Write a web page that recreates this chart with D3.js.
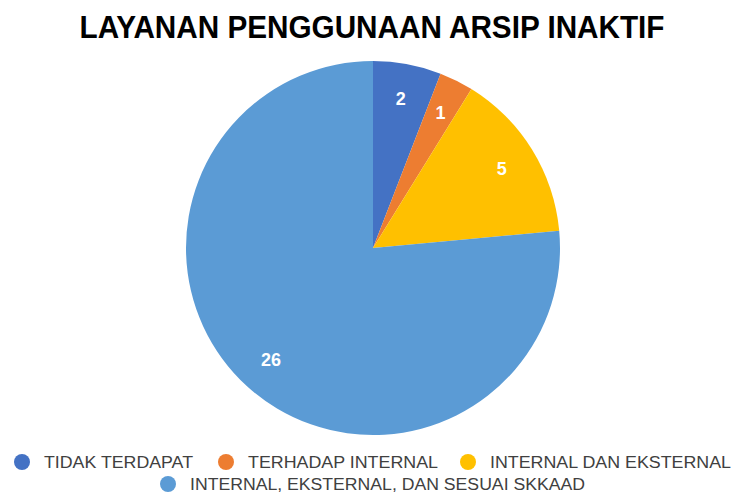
<!DOCTYPE html>
<html>
<head>
<meta charset="utf-8">
<script src="https://cdn.jsdelivr.net/npm/d3@7"></script>
<style>
  body { margin: 0; background: #fff; }
  text { font-family: "Liberation Sans", Arial, sans-serif; }
</style>
</head>
<body>
<script>
  // chart data
  var categories = ["TIDAK TERDAPAT", "TERHADAP INTERNAL", "INTERNAL DAN EKSTERNAL", "INTERNAL, EKSTERNAL, DAN SESUAI SKKAAD"];
  var values = [2, 1, 5, 26];
  var colors = ["#4472C4", "#ED7D31", "#FFC000", "#5B9BD5"];

  var width = 735,
      height = 494;

  var svg = d3.select("body").append("svg")
      .attr("width", width)
      .attr("height", height);

  svg.append("text")
      .attr("x", 372)
      .attr("y", 38)
      .attr("text-anchor", "middle")
      .attr("font-size", 31)
      .attr("font-weight", "bold")
      .attr("textLength", 585)
      .attr("lengthAdjust", "spacingAndGlyphs")
      .attr("fill", "#000")
      .text("LAYANAN PENGGUNAAN ARSIP INAKTIF");

  var radius = 187;
  var pie = d3.pie().sort(null).value(function(d) { return d; });
  var arc = d3.arc().innerRadius(0).outerRadius(radius);
  var labelArc = d3.arc().innerRadius(radius * 0.81).outerRadius(radius * 0.81);

  var g = svg.append("g").attr("transform", "translate(373,248)");

  var slices = g.selectAll("g.slice")
      .data(pie(values))
      .enter()
      .append("g")
      .attr("class", "slice");

  slices.append("path")
      .attr("d", arc)
      .attr("fill", function(d, i) { return colors[i]; });

  slices.append("text")
      .attr("transform", function(d) { return "translate(" + labelArc.centroid(d) + ")"; })
      .attr("text-anchor", "middle")
      .attr("dy", "0.35em")
      .attr("font-size", 18)
      .attr("font-weight", "bold")
      .attr("fill", "#fff")
      .text(function(d) { return d.data; });

  // legend: three items on first row, one centred on second
  var legendPos = [[22, 462], [226, 462], [468, 462], [168, 484]];
  var legendLen = [149, 190, 241, 395];

  var items = svg.selectAll("g.legend")
      .data(categories)
      .enter()
      .append("g")
      .attr("class", "legend")
      .attr("transform", function(d, i) { return "translate(" + legendPos[i] + ")"; });

  items.append("circle")
      .attr("r", 8)
      .attr("fill", function(d, i) { return colors[i]; });

  items.append("text")
      .attr("x", 22)
      .attr("dy", "0.36em")
      .attr("font-size", 16)
      .attr("fill", "#404040")
      .attr("textLength", function(d, i) { return legendLen[i]; })
      .attr("lengthAdjust", "spacingAndGlyphs")
      .text(function(d) { return d; });
</script>
</body>
</html>
